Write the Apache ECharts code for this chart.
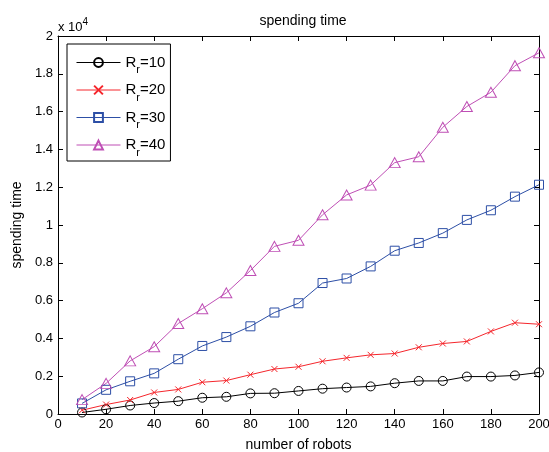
<!DOCTYPE html>
<html>
<head>
<meta charset="utf-8">
<script src="https://cdn.jsdelivr.net/npm/echarts@6/dist/echarts.min.js"></script>
<style>
html,body{margin:0;padding:0;background:#fff;}
#chart{width:549px;height:452px;}
</style>
</head>
<body>
<div id="chart"></div>
<script>
// number of robots
var robots = [10,20,30,40,50,60,70,80,90,100,110,120,130,140,150,160,170,180,190,200];
// spending time per communication range R_r
var rr10 = [80,250,450,580,680,860,910,1090,1100,1220,1340,1400,1460,1630,1750,1750,1980,1980,2040,2200];
var rr20 = [200,500,740,1140,1300,1680,1770,2080,2380,2500,2790,2970,3130,3200,3530,3730,3840,4370,4830,4750];
var rr30 = [560,1280,1730,2150,2900,3600,4070,4640,5370,5860,6930,7170,7810,8640,9050,9570,10270,10780,11500,12130];
var rr40 = [760,1620,2810,3560,4790,5570,6410,7590,8870,9190,10540,11590,12110,13300,13610,15170,16270,17020,18430,19110];
var seriesNames = ['10','20','30','40'];
var xTicks = {min:0, max:200, step:20};
var yTicks = {min:0, max:20000, step:2000, scale:10000};

function pairs(vals){ return robots.map(function(r,i){ return [r, vals[i]]; }); }

var FONT = 'Liberation Sans, Arial, sans-serif';
var chart = echarts.init(document.getElementById('chart'), null, {renderer:'canvas'});

function mk(name, vals, color, symbol, size, fill){
  return {
    name: name, type:'line', data: pairs(vals),
    symbol: symbol, symbolSize: size,
    lineStyle:{color:color, width:1},
    itemStyle:{color: fill, borderColor: color, borderWidth:1},
    emphasis:{disabled:true}
  };
}

var axisCommon = {
  axisLine:{show:true, onZero:false, lineStyle:{color:'#000', width:1}},
  axisTick:{show:true, inside:true, length:5, lineStyle:{color:'#000'}},
  splitLine:{show:false}
};

var option = {
  animation:false,
  backgroundColor:'#fff',
  title:{
    text:'spending time', left:298, top:9, textAlign:'center',
    textStyle:{fontFamily:FONT, fontSize:14, fontWeight:'normal', color:'#000'}
  },
  grid:{left:58, right:10, top:36, bottom:38, containLabel:false, outerBoundsMode:'none'},
  legend:{
    orient:'vertical', left:67, top:44,
    padding:[11,5,3,9], itemGap:7, itemWidth:44, itemHeight:11,
    backgroundColor:'#fff', borderColor:'#000', borderWidth:1, borderRadius:0,
    lineStyle:{width:1},
    formatter:function(n){ return '{a|R}{b|r}{a|=' + n + '}'; },
    textStyle:{fontFamily:FONT, color:'#000', fontSize:15,
      rich:{
        a:{fontFamily:FONT, fontSize:15, lineHeight:26, color:'#000'},
        b:{fontFamily:FONT, fontSize:11, lineHeight:11, verticalAlign:'bottom', color:'#000'}
      }
    },
    data: seriesNames
  },
  xAxis:[
    Object.assign({type:'value', position:'bottom', min:xTicks.min, max:xTicks.max, interval:xTicks.step,
      name:'number of robots', nameLocation:'middle', nameGap:24,
      nameTextStyle:{fontFamily:FONT, fontSize:14, color:'#000'},
      axisLabel:{fontFamily:FONT, fontSize:13, color:'#000', margin:4}}, axisCommon),
    Object.assign({type:'value', position:'top', min:xTicks.min, max:xTicks.max, interval:xTicks.step,
      axisLabel:{show:false}}, axisCommon)
  ],
  yAxis:[
    Object.assign({type:'value', position:'left', min:yTicks.min, max:yTicks.max, interval:yTicks.step,
      name:'spending time', nameLocation:'middle', nameGap:33,
      nameTextStyle:{fontFamily:FONT, fontSize:14, color:'#000'},
      axisLabel:{fontFamily:FONT, fontSize:13, color:'#000', margin:5,
        formatter:function(v){ return String(Math.round(v/yTicks.scale*10)/10); }}}, axisCommon),
    Object.assign({type:'value', position:'right', min:yTicks.min, max:yTicks.max, interval:yTicks.step,
      axisLabel:{show:false}}, axisCommon)
  ],
  graphic:[{
    type:'text', left:58, top:17,
    style:{text:'x 10{s|4}', fontFamily:FONT, fontSize:13, fill:'#000',
      rich:{s:{fontFamily:FONT, fontSize:10, verticalAlign:'top', lineHeight:10}},
      lineHeight:20}
  }],
  series:[
    mk(seriesNames[0], rr10, '#000000', 'circle', 9, 'rgba(0,0,0,0)'),
    mk(seriesNames[1], rr20, '#f5262c', 'path://M0,0L10,10M10,0L0,10', 6, 'rgba(0,0,0,0)'),
    mk(seriesNames[2], rr30, '#2d4fa6', 'rect', 9, 'rgba(0,0,0,0)'),
    mk(seriesNames[3], rr40, '#bf4fb5', 'triangle', [11,10], 'rgba(0,0,0,0)')
  ]
};
chart.setOption(option);
</script>
</body>
</html>
